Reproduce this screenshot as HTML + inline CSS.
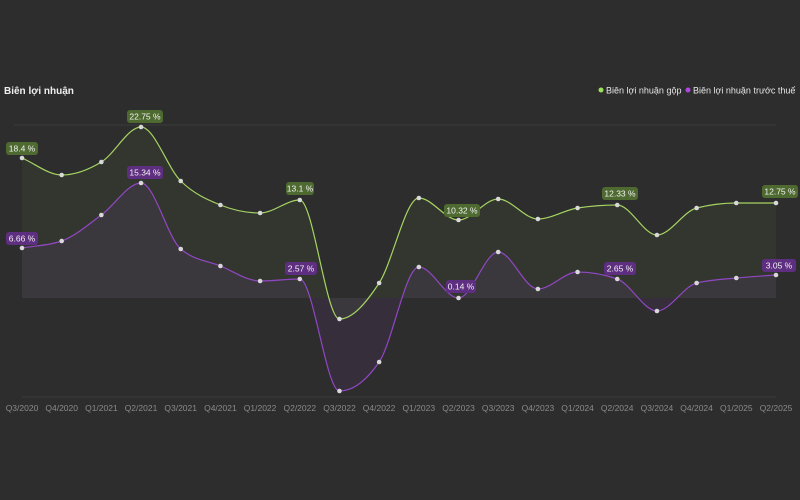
<!DOCTYPE html>
<html><head><meta charset="utf-8"><style>
html,body{margin:0;padding:0;background:#2d2d2d;}
svg{display:block;font-family:"Liberation Sans",sans-serif;}
</style></head><body>
<svg id="s" width="800" height="500" viewBox="0 0 800 500">
<rect width="800" height="500" fill="#2d2d2d"/>
<text x="4" y="94" fill="#f0f0f0" font-size="10" font-weight="bold">Biên lợi nhuận</text>
<circle cx="601" cy="90" r="2.5" fill="#9be05a"/>
<text x="606" y="93.5" fill="#e8e8e8" font-size="9">Biên lợi nhuận gộp</text>
<circle cx="688" cy="90" r="2.5" fill="#b046e0"/>
<text x="693" y="93.5" fill="#e8e8e8" font-size="9">Biên lợi nhuận trước thuế</text>
<line x1="14" y1="125" x2="776" y2="125" stroke="#3a3a3a" stroke-width="1"/>
<g id="fills"></g>
<g id="lines"></g>
<g id="dots"></g>
<line x1="22" y1="397" x2="776" y2="397" stroke="#3a3a3a"/>
<g fill="#8a8a8a" font-size="8.5" text-anchor="middle">
<text x="22" y="411">Q3/2020</text><text x="61.7" y="411">Q4/2020</text><text x="101.4" y="411">Q1/2021</text><text x="141" y="411">Q2/2021</text><text x="180.7" y="411">Q3/2021</text><text x="220.4" y="411">Q4/2021</text><text x="260.1" y="411">Q1/2022</text><text x="299.8" y="411">Q2/2022</text><text x="339.5" y="411">Q3/2022</text><text x="379.1" y="411">Q4/2022</text><text x="418.8" y="411">Q1/2023</text><text x="458.5" y="411">Q2/2023</text><text x="498.2" y="411">Q3/2023</text><text x="537.9" y="411">Q4/2023</text><text x="577.6" y="411">Q1/2024</text><text x="617.2" y="411">Q2/2024</text><text x="656.9" y="411">Q3/2024</text><text x="696.6" y="411">Q4/2024</text><text x="736.3" y="411">Q1/2025</text><text x="776" y="411">Q2/2025</text>
</g>
<g font-size="8.5" fill="#f2f2f2" text-anchor="middle">
<rect x="6" y="142" width="32" height="13" rx="3" fill="#4e6a30"/><text x="22" y="151.5">18.4 %</text>
<rect x="127" y="110" width="36" height="13" rx="3" fill="#4e6a30"/><text x="145" y="119.5">22.75 %</text>
<rect x="286" y="182" width="28" height="13" rx="3" fill="#4e6a30"/><text x="300" y="191.5">13.1 %</text>
<rect x="444" y="204" width="36" height="13" rx="3" fill="#4e6a30"/><text x="462" y="213.5">10.32 %</text>
<rect x="602" y="187" width="36" height="13" rx="3" fill="#4e6a30"/><text x="620" y="196.5">12.33 %</text>
<rect x="762" y="185" width="36" height="13" rx="3" fill="#4e6a30"/><text x="780" y="194.5">12.75 %</text>
<rect x="6" y="232" width="32" height="13" rx="3" fill="#5e2f80"/><text x="22" y="241.5">6.66 %</text>
<rect x="127" y="166" width="36" height="13" rx="3" fill="#5e2f80"/><text x="145" y="175.5">15.34 %</text>
<rect x="285" y="262" width="32" height="13" rx="3" fill="#5e2f80"/><text x="301" y="271.5">2.57 %</text>
<rect x="446" y="280" width="30" height="13" rx="3" fill="#5e2f80"/><text x="461" y="289.5">0.14 %</text>
<rect x="604" y="262" width="32" height="13" rx="3" fill="#5e2f80"/><text x="620" y="271.5">2.65 %</text>
<rect x="762" y="259" width="34" height="13" rx="3" fill="#5e2f80"/><text x="779" y="268.5">3.05 %</text>
</g>
</svg>
<script>
var G=[158,175,162,127,181,205,213,200,319,283,198,220,199,219,208,205,235,208,203,203];
var P=[248,241,215,183,249,266,281,279,391,362,267,298,252,289,272,279,311,283,278,275];
var X=[];for(var i=0;i<20;i++)X.push(22+i*(754/19));
var Z=298;
function path(Y){var n=Y.length,h=X[1]-X[0],s=[],m=[];
for(var i=0;i<n-1;i++)s.push((Y[i+1]-Y[i])/h);
for(var i=0;i<n;i++){if(i==0)m.push(s[0]);else if(i==n-1)m.push(s[n-2]);else{var a=s[i-1],b=s[i];m.push(a*b<=0?0:(Math.sign(a)*Math.min(Math.abs(a),Math.abs(b),0.5*Math.abs(a+b))*1.0));}}
for(var i=1;i<n-1;i++){var a=s[i-1],b=s[i];if(a*b>0){var p=(a+b)/2;m[i]=Math.sign(a)*Math.min(2*Math.abs(a),2*Math.abs(b),Math.abs(p));}}
var d="M"+X[0]+","+Y[0];
for(var i=0;i<n-1;i++){d+=" C"+(X[i]+h/3)+","+(Y[i]+m[i]*h/3)+" "+(X[i+1]-h/3)+","+(Y[i+1]-m[i+1]*h/3)+" "+X[i+1]+","+Y[i+1];}
return d;}
var ns="http://www.w3.org/2000/svg";
function el(par,tag,a){var e=document.createElementNS(ns,tag);for(var k in a)e.setAttribute(k,a[k]);document.getElementById(par).appendChild(e);}
var gp=path(G),pp=path(P);
el("fills","path",{d:gp+" L776,"+Z+" L22,"+Z+" Z",fill:"rgba(140,200,80,0.06)"});
el("fills","path",{d:pp+" L776,"+Z+" L22,"+Z+" Z",fill:"rgba(160,80,210,0.09)"});
el("lines","path",{d:gp,fill:"none",stroke:"#a6d462","stroke-width":1.2});
el("lines","path",{d:pp,fill:"none",stroke:"#9147c4","stroke-width":1.2});
for(var i=0;i<20;i++){el("dots","circle",{cx:X[i],cy:G[i],r:2.3,fill:"#d8d8d8"});el("dots","circle",{cx:X[i],cy:P[i],r:2.3,fill:"#d8d8d8"});}
</script>
</body></html>
